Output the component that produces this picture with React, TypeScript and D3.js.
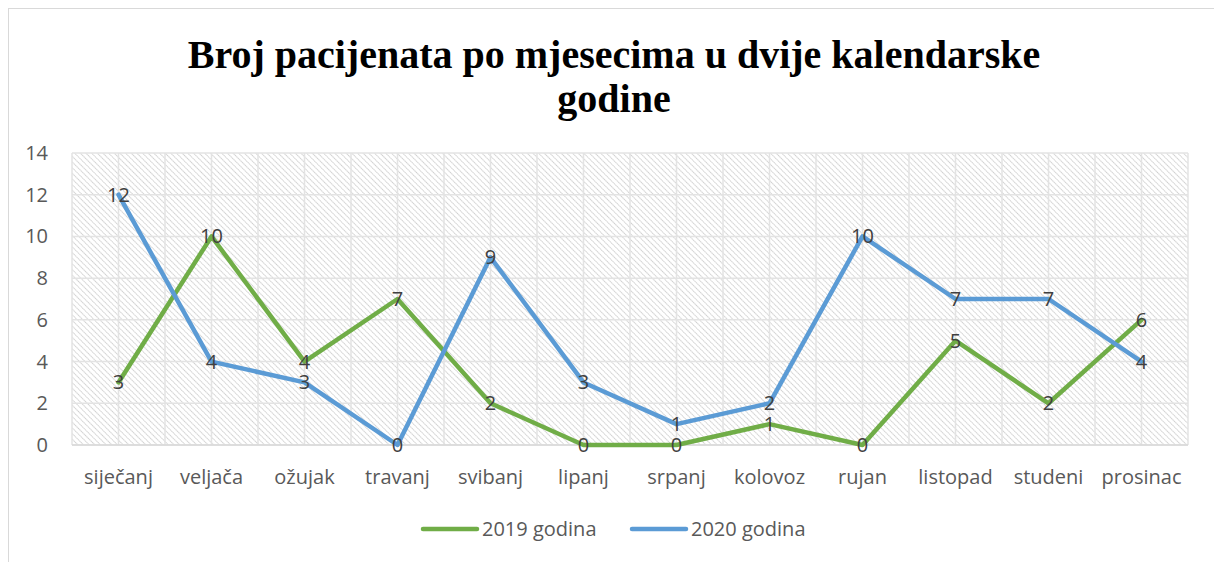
import React from "react";
import * as d3 from "d3";

const months = ["siječanj", "veljača", "ožujak", "travanj", "svibanj", "lipanj", "srpanj", "kolovoz", "rujan", "listopad", "studeni", "prosinac"];
const values2019 = [3, 10, 4, 7, 2, 0, 0, 1, 0, 5, 2, 6];
const values2020 = [12, 4, 3, 0, 9, 3, 1, 2, 10, 7, 7, 4];
const yTicks = [0, 2, 4, 6, 8, 10, 12, 14];
const seriesNames = ["2019 godina", "2020 godina"];
const seriesColors = ["#70AD47", "#5B9BD5"];

const W = 1214, H = 562;
const plot = { left: 72, right: 1188, top: 153, bottom: 445 };
const font = "'Open Sans', 'Liberation Sans', sans-serif";

export default function App() {
  const x = d3.scaleBand<string>().domain(months).range([plot.left, plot.right]).padding(0);
  const y = d3.scaleLinear().domain([0, 14]).range([plot.bottom, plot.top]);
  const cx = (m: string) => (x(m) as number) + x.bandwidth() / 2;
  const line = d3.line<number>().x((_, i) => cx(months[i])).y((v) => y(v));
  const vGrid: number[] = [];
  for (let k = 0; k <= 24; k++) vGrid.push(plot.left + (k * x.bandwidth()) / 2);
  const series = [values2019, values2020];

  return (
    <svg width={W} height={H} style={{ position: "absolute", left: 0, top: 0, background: "#fff" }} fontFamily={font}>
      <defs>
        <pattern id="hatch" patternUnits="userSpaceOnUse" width="4" height="4" patternTransform="rotate(-45)">
          <rect width="4" height="4" fill="#fff" />
          <line x1="0" y1="0" x2="0" y2="4" stroke="#c4c4c4" strokeWidth="1.6" strokeDasharray="1.4 0.6" />
        </pattern>
      </defs>
      <rect x={8.5} y={8.5} width={W + 20} height={H + 20} fill="#fff" stroke="#d9d9d9" strokeWidth={1} />
      <text x={614} y={68} textAnchor="middle" fontFamily="'Liberation Serif', 'Times New Roman', serif" fontWeight="bold" fontSize={40} fill="#000">
        Broj pacijenata po mjesecima u dvije kalendarske
      </text>
      <text x={614} y={112} textAnchor="middle" fontFamily="'Liberation Serif', 'Times New Roman', serif" fontWeight="bold" fontSize={40} fill="#000">
        godine
      </text>
      <rect x={plot.left} y={plot.top} width={plot.right - plot.left} height={plot.bottom - plot.top} fill="url(#hatch)" />
      {yTicks.map((t) => (
        <line key={"h" + t} x1={plot.left} x2={plot.right} y1={y(t)} y2={y(t)} stroke="#e3e3e3" strokeWidth={1.5} />
      ))}
      {vGrid.map((g, i) => (
        <line key={"v" + i} x1={g} x2={g} y1={plot.top} y2={plot.bottom} stroke="#e3e3e3" strokeWidth={1.5} />
      ))}
      <line x1={plot.left} x2={plot.right} y1={plot.bottom} y2={plot.bottom} stroke="#d9d9d9" strokeWidth={1.5} />
      {yTicks.map((t) => (
        <text key={"yt" + t} x={48} y={y(t)} dy="0.35em" textAnchor="end" fontSize={20} fill="#595959">{t}</text>
      ))}
      {months.map((m) => (
        <text key={"xt" + m} x={cx(m)} y={484} textAnchor="middle" fontSize={20} fill="#595959">{m}</text>
      ))}
      {series.map((s, si) => (
        <path key={"s" + si} d={line(s) || ""} fill="none" stroke={seriesColors[si]} strokeWidth={4.5} strokeLinejoin="round" strokeLinecap="round" />
      ))}
      {series.map((s, si) =>
        s.map((v, i) => (
          <text key={"l" + si + "-" + i} x={cx(months[i])} y={y(v)} dy="0.35em" textAnchor="middle" fontSize={20} fill="#404040">{v}</text>
        ))
      )}
      {seriesNames.map((n, i) => {
        const lx = i === 0 ? 423 : 632;
        return (
          <g key={"lg" + i}>
            <line x1={lx} x2={lx + 54} y1={529} y2={529} stroke={seriesColors[i]} strokeWidth={4.5} strokeLinecap="round" />
            <text x={lx + 59} y={529} dy="0.35em" fontSize={20} fill="#595959">{n}</text>
          </g>
        );
      })}
    </svg>
  );
}
